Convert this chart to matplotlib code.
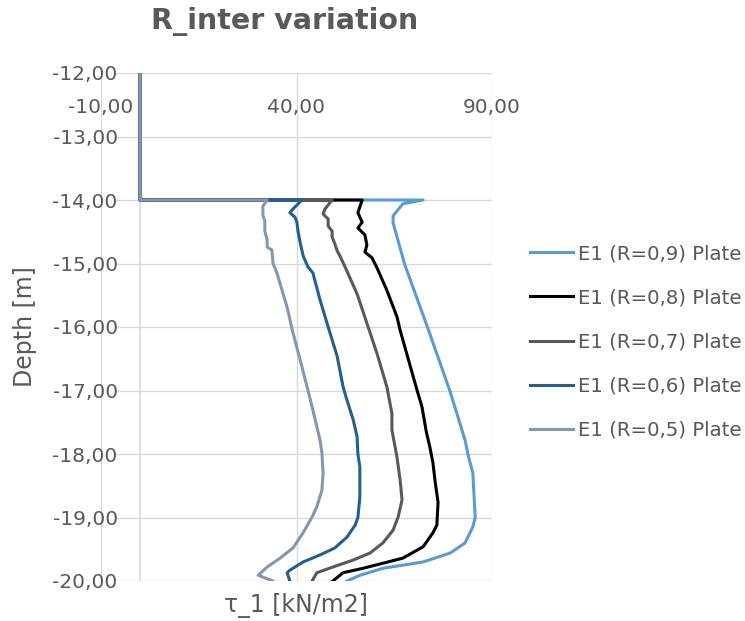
import matplotlib
matplotlib.use("Agg")
import matplotlib.pyplot as plt

plt.rcParams['font.family'] = ['DejaVu Sans']

TEXT = "#595959"
GRID = "#D9D9D9"

# shear stress tau_1 [kN/m2] along depth [m] for each interface factor R
depth_09 = [-12.0, -14.0, -14.0, -14.06, -14.25, -14.36, -15.02, -16.02, -17.02, -17.78,
            -18.02, -18.30, -19.0, -19.15, -19.40, -19.56, -19.70, -19.80, -19.91, -20.0]
tau_09 = [0.0, 0.0, 72.4, 67.2, 64.7, 64.7, 67.7, 73.6, 79.3, 83.1,
          83.9, 85.1, 85.7, 85.1, 83.1, 79.3, 72.4, 62.1, 56.2, 52.9]

depth_08 = [-12.0, -14.0, -14.0, -14.20, -14.35, -14.44, -14.55, -14.71, -14.82, -14.91,
            -15.07, -15.42, -15.84, -16.05, -16.99, -17.26, -17.65, -17.89, -18.14, -18.41,
            -18.76, -19.12, -19.24, -19.46, -19.64, -19.72, -19.80, -19.87, -20.0]
tau_08 = [0.0, 0.0, 56.8, 55.7, 56.8, 55.7, 57.5, 58.0, 57.5, 59.3,
          60.6, 63.1, 65.7, 66.5, 70.8, 72.1, 73.2, 74.1, 74.9, 75.4,
          76.2, 75.9, 74.9, 72.4, 67.2, 62.1, 57.0, 51.9, 49.3]

depth_07 = [-12.0, -14.0, -14.0, -14.14, -14.22, -14.30, -14.41, -14.49, -14.58, -14.69,
            -14.80, -14.88, -15.05, -15.48, -15.94, -16.42, -16.94, -17.36, -17.62, -18.05,
            -18.41, -18.72, -18.99, -19.20, -19.40, -19.56, -19.67, -19.78, -19.87, -20.0]
tau_07 = [0.0, 0.0, 49.1, 47.3, 46.8, 48.1, 48.1, 49.1, 49.1, 49.8,
          50.4, 51.1, 52.4, 55.5, 58.0, 60.6, 63.1, 64.4, 64.4, 65.7,
          66.5, 67.0, 66.0, 64.7, 62.1, 58.8, 54.5, 49.3, 45.2, 44.0]

depth_06 = [-12.0, -14.0, -14.0, -14.14, -14.20, -14.27, -14.35, -14.50, -14.66, -14.88,
            -15.05, -15.15, -15.57, -16.0, -16.46, -16.94, -17.15, -17.46, -17.73, -18.0,
            -18.2, -18.68, -19.0, -19.12, -19.31, -19.48, -19.59, -19.70, -19.83, -19.87, -20.0]
tau_06 = [0.0, 0.0, 41.4, 39.1, 38.3, 39.6, 40.1, 40.4, 40.9, 41.7,
          42.9, 44.2, 46.0, 48.1, 50.4, 51.9, 52.9, 54.5, 55.5, 55.7,
          56.2, 56.2, 55.7, 55.0, 52.9, 49.8, 46.0, 41.7, 38.3, 37.6, 38.3]

depth_05 = [-12.0, -14.0, -14.0, -14.10, -14.24, -14.33, -14.49, -14.63, -14.74, -14.79,
            -15.0, -15.15, -15.69, -16.09, -16.63, -16.99, -17.26, -17.57, -17.78, -17.98,
            -18.30, -18.57, -18.83, -18.99, -19.24, -19.48, -19.64, -19.78, -19.91, -20.0]
tau_05 = [0.0, 0.0, 32.5, 31.4, 31.4, 31.9, 31.9, 32.5, 32.5, 33.7,
          34.0, 35.0, 37.6, 39.1, 41.4, 42.9, 44.0, 45.2, 46.0, 46.5,
          46.8, 46.5, 45.2, 44.0, 41.7, 39.1, 35.8, 32.5, 30.2, 34.0]

labels = ["E1 (R=0,9) Plate", "E1 (R=0,8) Plate", "E1 (R=0,7) Plate",
          "E1 (R=0,6) Plate", "E1 (R=0,5) Plate"]
colors = ["#5B9BD5", "#000000", "#595959", "#255E91", "#8497B0"]

x_ticks = [-10, 40, 90]
y_ticks = [-12, -13, -14, -15, -16, -17, -18, -19, -20]


def comma(v):
    return f"{v:.2f}".replace(".", ",")


fig = plt.figure(figsize=(7.45, 6.21), dpi=100)
ax = fig.add_axes([101 / 745, 40 / 621, 391 / 745, 508 / 621])

ax.set_xlim(-10, 90)
ax.set_ylim(-20, -12)

# grid
for xv in x_ticks:
    ax.axvline(xv, color=GRID, lw=1.0, zorder=0)
for yv in y_ticks:
    ax.axhline(yv, xmin=0.036, xmax=1.0, color=GRID, lw=1.0, zorder=0)
ax.axvline(0, color=GRID, lw=1.2, zorder=0)

series = [(tau_09, depth_09), (tau_08, depth_08), (tau_07, depth_07),
          (tau_06, depth_06), (tau_05, depth_05)]
for (t, d), lab, c in zip(series, labels, colors):
    ax.plot(t, d, color=c, lw=2.2, label=lab, solid_joinstyle="round", zorder=2)

for s in ax.spines.values():
    s.set_visible(False)

ax.set_xticks([])
ax.set_yticks(y_ticks)
ax.set_yticklabels([comma(v) for v in y_ticks])
ax.tick_params(axis="y", length=0, pad=-12, labelsize=14.5, labelcolor=TEXT)

# horizontal axis values sit just below the top edge
for xv in x_ticks:
    ax.text(xv, -12.55, comma(xv), ha="center", va="center",
            fontsize=14.5, color=TEXT)

fig.text(25 / 745, 1 - 327 / 621, "Depth [m]", rotation=90, ha="center",
         va="center", fontsize=17, color=TEXT)
fig.text(296 / 745, 1 - 605 / 621, "τ_1 [kN/m2]", ha="center", va="center",
         fontsize=17, color=TEXT)
fig.text(285 / 745, 1 - 22 / 621, "R_inter variation", ha="center",
         va="center", fontsize=20.5, fontweight="bold", color=TEXT)

leg = ax.legend(loc="center left", bbox_to_anchor=(522 / 745, 1 - 342 / 621),
                bbox_transform=fig.transFigure, frameon=False, fontsize=14.2,
                handlelength=2.2, handletextpad=0.25, labelspacing=1.28,
                borderaxespad=0)
for txt in leg.get_texts():
    txt.set_color(TEXT)

fig.savefig("out.png", dpi=100)
